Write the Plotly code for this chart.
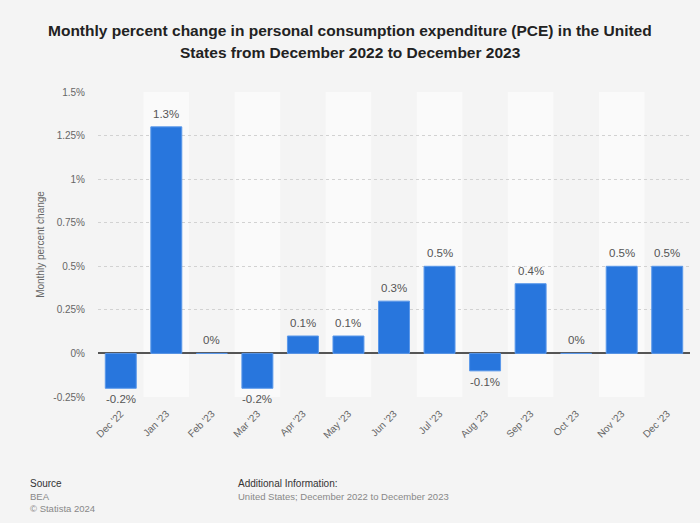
import plotly.graph_objects as go

months = ["Dec '22", "Jan '23", "Feb '23", "Mar '23", "Apr '23", "May '23", "Jun '23",
          "Jul '23", "Aug '23", "Sep '23", "Oct '23", "Nov '23", "Dec '23"]
values = [-0.2, 1.3, 0, -0.2, 0.1, 0.1, 0.3, 0.5, -0.1, 0.4, 0, 0.5, 0.5]
labels = ["-0.2%", "1.3%", "0%", "-0.2%", "0.1%", "0.1%", "0.3%", "0.5%", "-0.1%", "0.4%", "0%", "0.5%", "0.5%"]
y_ticks = [-0.25, 0, 0.25, 0.5, 0.75, 1, 1.25, 1.5]
y_tick_text = ["-0.25%", "0%", "0.25%", "0.5%", "0.75%", "1%", "1.25%", "1.5%"]
title_lines = ["Monthly percent change in personal consumption expenditure (PCE) in the United",
               "States from December 2022 to December 2023"]

FONT = "Liberation Sans, Arial, sans-serif"
H, T, B = 523, 92, 126
plot_h = H - T - B


def py(px):
    """paper y coordinate for a pixel row measured from top"""
    return (H - B - px) / plot_h


fig = go.Figure()
fig.add_trace(go.Bar(
    x=list(range(len(months))), y=values,
    marker=dict(color="#2876dd", line=dict(color="#5a98ea", width=1)),
    hoverinfo="skip",
))

# value labels
for i, (v, t) in enumerate(zip(values, labels)):
    fig.add_annotation(x=i, y=v, text=t, showarrow=False, xref="x", yref="y",
                       yanchor="bottom" if v >= 0 else "top",
                       yshift=5 if v >= 0 else -3,
                       font=dict(size=11.5, color="#555555", family=FONT))

# alternating column stripes
shapes = []
for i in range(len(months)):
    if i % 2 == 1:
        shapes.append(dict(type="rect", xref="x", yref="y", x0=i - 0.5, x1=i + 0.5,
                           y0=y_ticks[0], y1=y_ticks[-1], fillcolor="#fafafa",
                           line=dict(width=0), layer="below"))

fig.update_layout(
    width=700, height=H,
    paper_bgcolor="#f4f4f4", plot_bgcolor="#f4f4f4",
    margin=dict(l=98, r=10, t=T, b=B),
    bargap=0.32,
    showlegend=False,
    shapes=shapes,
    font=dict(family=FONT, color="#666666"),
    xaxis=dict(
        tickmode="array", tickvals=list(range(len(months))), ticktext=months,
        tickangle=-45, tickfont=dict(size=10, color="#666666"),
        range=[-0.5, len(months) - 0.5], showgrid=False, zeroline=False,
        showline=False, ticks="", ticklabelstandoff=8,
    ),
    yaxis=dict(
        tickmode="array", tickvals=y_ticks, ticktext=y_tick_text,
        range=[y_ticks[0], y_ticks[-1]],
        tickfont=dict(size=10, color="#666666"),
        showgrid=True, gridcolor="#d2d2d2", griddash="dot", gridwidth=1,
        zeroline=True, zerolinecolor="#555555", zerolinewidth=1.5,
        ticklabelstandoff=12,
        title=dict(text="Monthly percent change", font=dict(size=10, color="#666666"), standoff=6),
    ),
)

# title (two lines, positioned like the reference)
for line, px in zip(title_lines, [30, 52]):
    fig.add_annotation(text="<b>" + line + "</b>", xref="paper", yref="paper",
                       x=0.5, y=py(px), xanchor="center", yanchor="middle", showarrow=False,
                       xshift=(350 - (98 + (700 - 98 - 10) / 2)),
                       font=dict(size=15.5, color="#222222", family=FONT))

fig.add_annotation(text="Source", xref="paper", yref="paper", x=-0.118, y=py(476),
                   xanchor="left", yanchor="top", showarrow=False,
                   font=dict(size=10, color="#333333"), align="left")
fig.add_annotation(text="BEA<br>© Statista 2024", xref="paper", yref="paper", x=-0.118, y=py(489),
                   xanchor="left", yanchor="top", showarrow=False,
                   font=dict(size=9.5, color="#888888"), align="left")
fig.add_annotation(text="Additional Information:", xref="paper", yref="paper", x=0.233, y=py(476),
                   xanchor="left", yanchor="top", showarrow=False,
                   font=dict(size=10, color="#333333"), align="left")
fig.add_annotation(text="United States; December 2022 to December 2023", xref="paper", yref="paper",
                   x=0.233, y=py(489), xanchor="left", yanchor="top", showarrow=False,
                   font=dict(size=9.5, color="#888888"), align="left")

fig.write_html("out.html")
